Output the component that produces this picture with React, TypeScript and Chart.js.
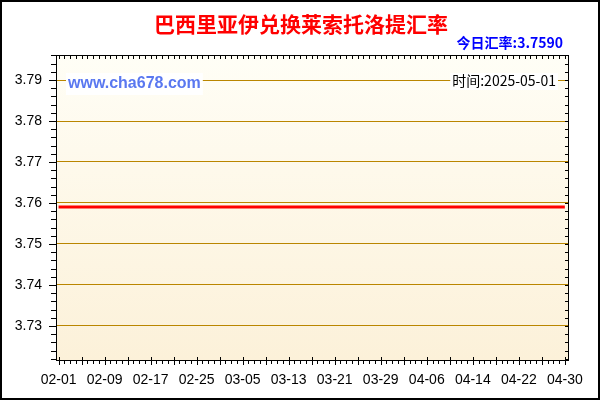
import { useEffect, useRef } from 'react';
import { Chart, registerables } from 'chart.js';

Chart.register(...registerables);

const FONT = 'Liberation Sans, Arial, sans-serif';
const CJK = 'Noto Sans CJK SC, sans-serif';

// ─── Data ─────────────────────────────────────────────────────────────────────

const TITLE = '巴西里亚伊兑换莱索托洛提汇率';
const TODAY_RATE = '今日汇率:3.7590';
const SITE = 'www.cha678.com';
const STAMP = '时间:2025-05-01';

const dates = [
  '02-01', '02-02', '02-03', '02-04', '02-05', '02-06', '02-07', '02-08', '02-09', '02-10',
  '02-11', '02-12', '02-13', '02-14', '02-15', '02-16', '02-17', '02-18', '02-19', '02-20',
  '02-21', '02-22', '02-23', '02-24', '02-25', '02-26', '02-27', '02-28',
  '03-01', '03-02', '03-03', '03-04', '03-05', '03-06', '03-07', '03-08', '03-09', '03-10',
  '03-11', '03-12', '03-13', '03-14', '03-15', '03-16', '03-17', '03-18', '03-19', '03-20',
  '03-21', '03-22', '03-23', '03-24', '03-25', '03-26', '03-27', '03-28', '03-29', '03-30',
  '03-31',
  '04-01', '04-02', '04-03', '04-04', '04-05', '04-06', '04-07', '04-08', '04-09', '04-10',
  '04-11', '04-12', '04-13', '04-14', '04-15', '04-16', '04-17', '04-18', '04-19', '04-20',
  '04-21', '04-22', '04-23', '04-24', '04-25', '04-26', '04-27', '04-28', '04-29', '04-30',
];

const rates = [
  3.759, 3.759, 3.759, 3.759, 3.759, 3.759, 3.759, 3.759, 3.759, 3.759,
  3.759, 3.759, 3.759, 3.759, 3.759, 3.759, 3.759, 3.759, 3.759, 3.759,
  3.759, 3.759, 3.759, 3.759, 3.759, 3.759, 3.759, 3.759,
  3.759, 3.759, 3.759, 3.759, 3.759, 3.759, 3.759, 3.759, 3.759, 3.759,
  3.759, 3.759, 3.759, 3.759, 3.759, 3.759, 3.759, 3.759, 3.759, 3.759,
  3.759, 3.759, 3.759, 3.759, 3.759, 3.759, 3.759, 3.759, 3.759, 3.759,
  3.759,
  3.759, 3.759, 3.759, 3.759, 3.759, 3.759, 3.759, 3.759, 3.759, 3.759,
  3.759, 3.759, 3.759, 3.759, 3.759, 3.759, 3.759, 3.759, 3.759, 3.759,
  3.759, 3.759, 3.759, 3.759, 3.759, 3.759, 3.759, 3.759, 3.759, 3.759,
];

const xTickIdx = [0, 8, 16, 24, 32, 40, 48, 56, 64, 72, 80, 88];
const yTicks = [3.73, 3.74, 3.75, 3.76, 3.77, 3.78, 3.79];

// ─── Decorations: background, frame, minor ticks, captions ────────────────────

const decor = {
  id: 'decor',
  beforeDraw(chart: Chart) {
    const { ctx, chartArea: a, width, height } = chart;
    ctx.save();
    ctx.fillStyle = '#ffffff';
    ctx.fillRect(0, 0, width, height);
    const g = ctx.createLinearGradient(0, a.top, 0, a.bottom);
    g.addColorStop(0, '#FFFEF6');
    g.addColorStop(1, '#FCF1D9');
    ctx.fillStyle = g;
    ctx.fillRect(a.left, a.top, a.right - a.left, a.bottom - a.top);
    ctx.restore();
  },
  afterDraw(chart: Chart) {
    const { ctx, chartArea: a, width, height } = chart;
    const xs = chart.scales.x;
    const ys = chart.scales.y;
    ctx.save();

    // plot frame
    ctx.strokeStyle = '#000';
    ctx.lineWidth = 1;
    ctx.strokeRect(Math.round(a.left) + 0.5, Math.round(a.top) + 0.5,
      Math.round(a.right - a.left), Math.round(a.bottom - a.top));

    // x ticks: one per day, taller every 4 days
    ctx.beginPath();
    dates.forEach((_, i) => {
      const px = Math.round(xs.getPixelForValue(i)) + 0.5;
      const major = i % 4 === 0;
      ctx.moveTo(px, a.bottom + (major ? -3 : 0));
      ctx.lineTo(px, a.bottom + (major ? 5 : 4));
      ctx.moveTo(px, a.top);
      ctx.lineTo(px, a.top + 4);
    });

    // y ticks: every 0.002, taller at 0.01
    for (let k = 1861; k <= 1898; k++) {
      const py = Math.round(ys.getPixelForValue(k * 0.002)) + 0.5;
      const major = k % 5 === 0;
      ctx.moveTo(a.left - (major ? 7 : 5), py);
      ctx.lineTo(a.left + 1, py);
      ctx.moveTo(a.right - 3, py);
      ctx.lineTo(a.right, py);
    }
    ctx.stroke();

    // title
    ctx.textAlign = 'center';
    ctx.textBaseline = 'middle';
    ctx.fillStyle = '#FF0000';
    ctx.font = `bold 21px ${CJK}`;
    ctx.fillText(TITLE, width / 2 + 1, 24);

    // today's rate
    ctx.textAlign = 'right';
    ctx.fillStyle = '#0000FF';
    ctx.font = `bold 14px ${CJK}`;
    ctx.fillText(TODAY_RATE, 563, 43);

    // site watermark
    ctx.textAlign = 'left';
    ctx.font = `bold 16px ${FONT}`;
    const sw = ctx.measureText(SITE).width;
    ctx.fillStyle = '#ffffff';
    ctx.fillRect(66, 73, sw + 4, 22);
    ctx.fillStyle = '#5A78F0';
    ctx.fillText(SITE, 68, 84);

    // date stamp
    ctx.textAlign = 'right';
    ctx.font = `14px ${CJK}`;
    const tw = ctx.measureText(STAMP).width;
    ctx.fillStyle = '#ffffff';
    ctx.fillRect(556 - tw - 2, 73, tw + 4, 17);
    ctx.fillStyle = '#000';
    ctx.fillText(STAMP, 556, 81);

    // outer border
    ctx.lineWidth = 2;
    ctx.strokeStyle = '#000';
    ctx.strokeRect(1, 1, width - 2, height - 2);
    ctx.restore();
  },
};

// ─── Chart ────────────────────────────────────────────────────────────────────

function RateChart() {
  const canvasRef = useRef<HTMLCanvasElement>(null);
  const chartRef = useRef<Chart | null>(null);

  useEffect(() => {
    if (!canvasRef.current) return;
    const existing = Chart.getChart(canvasRef.current);
    if (existing) existing.destroy();
    chartRef.current?.destroy();

    chartRef.current = new Chart(canvasRef.current, {
      type: 'line',
      data: {
        datasets: [{
          data: rates.map((v, i) => ({ x: i, y: v })),
          borderColor: '#FF0000',
          borderWidth: 3,
          pointRadius: 0,
          tension: 0,
          fill: false,
        }],
      },
      options: {
        responsive: false,
        animation: false,
        devicePixelRatio: 1,
        layout: { padding: { top: 55, right: 32, left: 0, bottom: 0 } },
        plugins: { legend: { display: false }, tooltip: { enabled: false }, title: { display: false } },
        scales: {
          x: {
            type: 'linear',
            min: -0.45,
            max: 88.55,
            afterBuildTicks: (s: any) => { s.ticks = xTickIdx.map(v => ({ value: v })); },
            afterFit: (s: any) => { s.height = 40; },
            grid: { display: false, drawTicks: false },
            border: { display: false },
            ticks: {
              padding: 12,
              maxRotation: 0,
              autoSkip: false,
              color: '#000',
              font: { family: FONT, size: 14 },
              callback: (v: any) => dates[v as number] ?? '',
            },
          },
          y: {
            type: 'linear',
            min: 3.7217,
            max: 3.7961,
            afterBuildTicks: (s: any) => { s.ticks = yTicks.map(v => ({ value: v })); },
            afterFit: (s: any) => { s.width = 56; },
            grid: { color: '#BA8600', lineWidth: 1, drawTicks: false },
            border: { display: false },
            ticks: {
              padding: 14,
              color: '#000',
              font: { family: FONT, size: 14 },
              callback: (v: any) => (v as number).toFixed(2),
            },
          },
        },
      },
      plugins: [decor],
    });

    return () => { chartRef.current?.destroy(); chartRef.current = null; };
  }, []);

  return <canvas ref={canvasRef} width={600} height={400} style={{ display: 'block' }} />;
}

export default function App() {
  useEffect(() => { document.body.style.margin = '0'; }, []);
  return <RateChart />;
}
